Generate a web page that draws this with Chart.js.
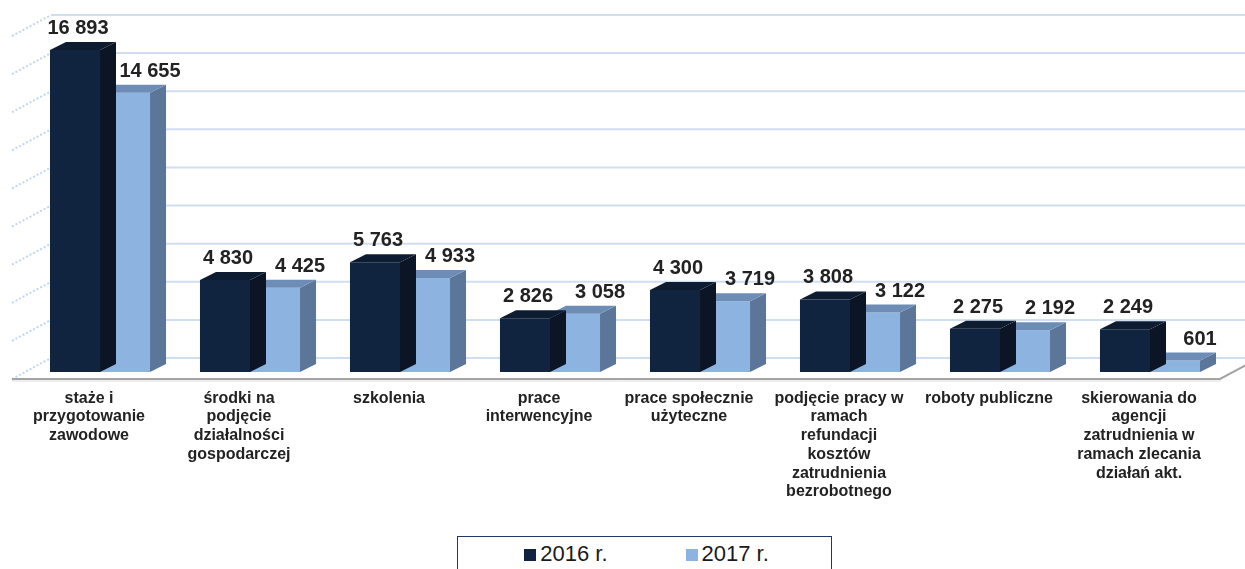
<!DOCTYPE html>
<html>
<head>
<meta charset="utf-8">
<script src="https://cdn.jsdelivr.net/npm/chart.js@4/dist/chart.umd.min.js"></script>
<style>
  body { margin: 0; background: #fff; }
  #wrap { position: relative; width: 1245px; height: 569px; overflow: hidden; }
  #legend {
    position: absolute; left: 457px; top: 536px; width: 375px; height: 60px;
    border: 1.5px solid #1f3a60; box-sizing: border-box; background: #fff;
    font-family: "Liberation Sans", Arial, sans-serif; font-size: 22px; color: #1a1a1a;
    display: flex; justify-content: center; gap: 78px; padding-top: 4px; padding-left: 4px;
  }
  #legend span.item { display: flex; align-items: flex-start; height: 26px; line-height: 26px; }
  #legend i { display: inline-block; width: 12px; height: 12px; margin: 8px 4px 0 0; }
</style>
</head>
<body>
<div id="wrap">
  <canvas id="chart" width="1245" height="569"></canvas>
  <div id="legend"></div>
</div>
<script>
const categories = [
  ["staże i", "przygotowanie", "zawodowe"],
  ["środki na", "podjęcie", "działalności", "gospodarczej"],
  ["szkolenia"],
  ["prace", "interwencyjne"],
  ["prace społecznie", "użyteczne"],
  ["podjęcie pracy w", "ramach", "refundacji", "kosztów", "zatrudnienia", "bezrobotnego"],
  ["roboty publiczne"],
  ["skierowania do", "agencji", "zatrudnienia w", "ramach zlecania", "działań akt."]
];
const seriesNames = ["2016 r.", "2017 r."];
const values2016 = [16893, 4830, 5763, 2826, 4300, 3808, 2275, 2249];
const values2017 = [14655, 4425, 4933, 3058, 3719, 3122, 2192, 601];
const yMax = 18000;
const yStep = 2000;

// front / side / top colours for the 3D look
const faces = [
  { front: "#10233f", side: "#0b1526", top: "#0e1c31" },
  { front: "#8db3e1", side: "#5b7699", top: "#6e8db6" }
];
const barDepth = { dx: 16, dy: -8 };
const wallFront = { dx: -13, dy: 7 };
const wallBack = { dx: 26, dy: -14 };
const labelShift = [3, 25];

function fmt(v) {
  return String(v).replace(/\B(?=(\d{3})+(?!\d))/g, " ");
}

const walls = {
  id: "walls",
  beforeDatasetsDraw(chart) {
    const { ctx, chartArea, scales } = chart;
    const y = scales.y;
    ctx.save();
    y.ticks.forEach((t) => {
      const py = y.getPixelForValue(t.value);
      // back wall line
      ctx.strokeStyle = "#d0def2";
      ctx.lineWidth = 2;
      ctx.setLineDash([]);
      ctx.beginPath();
      ctx.moveTo(chartArea.left + wallBack.dx, py + wallBack.dy);
      ctx.lineTo(chart.width, py + wallBack.dy);
      ctx.stroke();
      // side wall diagonal
      ctx.strokeStyle = "#c2d6ef";
      ctx.setLineDash([2, 2]);
      ctx.beginPath();
      ctx.moveTo(chartArea.left + wallFront.dx, py + wallFront.dy);
      ctx.lineTo(chartArea.left + wallBack.dx, py + wallBack.dy);
      ctx.stroke();
    });
    // floor front edge
    const base = y.getPixelForValue(0) + wallFront.dy;
    const fx = chartArea.right - 5;
    ctx.setLineDash([]);
    ctx.strokeStyle = "#a3a3a3";
    ctx.lineWidth = 2;
    ctx.beginPath();
    ctx.moveTo(chartArea.left + wallFront.dx, base);
    ctx.lineTo(fx, base);
    ctx.lineTo(fx + (wallBack.dx - wallFront.dx), base + (wallBack.dy - wallFront.dy));
    ctx.stroke();
    ctx.strokeStyle = "#dcdcdc";
    ctx.lineWidth = 1;
    ctx.beginPath();
    ctx.moveTo(chartArea.left + wallFront.dx, base + 2);
    ctx.lineTo(fx + 1, base + 2);
    ctx.stroke();
    ctx.restore();
  },
  afterDatasetDraw(chart, args) {
    const { ctx } = chart;
    const f = faces[args.index];
    ctx.save();
    args.meta.data.forEach((bar) => {
      const { x, y, base, width } = bar.getProps(["x", "y", "base", "width"], true);
      const l = x - width / 2, r = x + width / 2;
      ctx.fillStyle = f.side;
      ctx.beginPath();
      ctx.moveTo(r, y);
      ctx.lineTo(r + barDepth.dx, y + barDepth.dy);
      ctx.lineTo(r + barDepth.dx, base + barDepth.dy);
      ctx.lineTo(r, base);
      ctx.closePath();
      ctx.fill();
      ctx.fillStyle = f.top;
      ctx.beginPath();
      ctx.moveTo(l, y);
      ctx.lineTo(l + barDepth.dx, y + barDepth.dy);
      ctx.lineTo(r + barDepth.dx, y + barDepth.dy);
      ctx.lineTo(r, y);
      ctx.closePath();
      ctx.fill();
    });
    ctx.restore();
  },
  afterDraw(chart) {
    const { ctx } = chart;
    ctx.save();
    ctx.font = "bold 20px 'Liberation Sans', Arial, sans-serif";
    ctx.fillStyle = "#222";
    ctx.textAlign = "center";
    ctx.textBaseline = "alphabetic";
    chart.data.datasets.forEach((ds, i) => {
      chart.getDatasetMeta(i).data.forEach((bar, j) => {
        ctx.fillText(fmt(ds.data[j]), bar.x + labelShift[i], bar.y - 16);
      });
    });
    ctx.restore();
  }
};

const chart = new Chart(document.getElementById("chart"), {
  type: "bar",
  data: {
    labels: categories,
    datasets: [
      { label: seriesNames[0], data: values2016, backgroundColor: faces[0].front },
      { label: seriesNames[1], data: values2017, backgroundColor: faces[1].front }
    ]
  },
  options: {
    responsive: false,
    animation: false,
    devicePixelRatio: 1,
    layout: { padding: { left: 25, right: 20, top: 29, bottom: 0 } },
    datasets: { bar: { categoryPercentage: 0.667, barPercentage: 1.0, borderWidth: 0 } },
    plugins: { legend: { display: false }, tooltip: { enabled: false } },
    scales: {
      x: {
        grid: { display: false, drawTicks: false },
        border: { display: false },
        afterFit: (s) => { s.height = 197; },
        ticks: {
          autoSkip: false,
          maxRotation: 0,
          minRotation: 0,
          padding: 17,
          labelOffset: -11,
          color: "#222",
          font: { family: "'Liberation Sans', Arial, sans-serif", size: 16, weight: "bold", lineHeight: 1.17 }
        }
      },
      y: {
        min: 0,
        max: yMax,
        ticks: { stepSize: yStep, display: false },
        grid: { display: false },
        border: { display: false },
        afterFit: (s) => { s.width = 0; }
      }
    }
  },
  plugins: [walls]
});

const legendEl = document.getElementById("legend");
chart.data.datasets.forEach((ds) => {
  const item = document.createElement("span");
  item.className = "item";
  item.innerHTML = `<i style="background:${ds.backgroundColor}"></i>${ds.label}`;
  legendEl.appendChild(item);
});
</script>
</body>
</html>
